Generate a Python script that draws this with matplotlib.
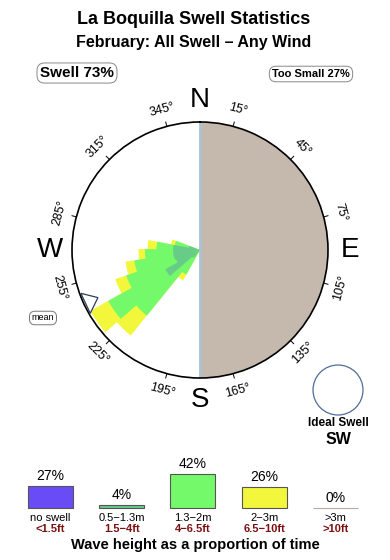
import matplotlib
matplotlib.use("Agg")
import matplotlib.pyplot as plt
import numpy as np
from matplotlib.patches import Ellipse

plt.rcParams["font.family"] = ["Liberation Sans", "DejaVu Sans"]

W, H = 390, 560

# rose data: direction bins (deg, compass) and cumulative radius per band (% of circle radius)
directions = [215, 225, 235, 245, 255, 265, 275, 285]
band_small = [0, 8, 31, 20, 21, 21, 21, 9]        # 0.5-1.3m
band_mid = [22, 66, 82, 61, 52, 43, 34, 20]       # 1.3-2m (cumulative)
band_big = [27, 86, 98, 70, 59, 48, 41, 23]       # 2-3m (cumulative)
mean_dir = 245

tick_angles = [15, 45, 75, 105, 135, 165, 195, 225, 255, 285, 315, 345]
cardinals = ["N", "E", "S", "W"]

# bottom legend
bar_pct = [27, 4, 42, 26, 0]
bar_metric = ["no swell", "0.5\u22121.3m", "1.3\u22122m", "2\u22123m", ">3m"]
bar_feet = ["<1.5ft", "1.5\u22124ft", "4\u22126.5ft", "6.5\u221210ft", ">10ft"]
bar_colors = ["#6a4cf6", "#66cc88", "#74f96a", "#f2f73c", "#c8b8b0"]

swell_pct = 73
too_small_pct = 27

GRAY = "#c4b9ac"
COAST = "#a9c2d6"


def fx(x):
    return x / W


def fy(y):
    return 1 - y / H


fig = plt.figure(figsize=(W / 100, H / 100), dpi=100)
fig.patch.set_facecolor("white")

fig.text(fx(194), fy(20), "La Boquilla Swell Statistics", ha="center", va="center",
         fontsize=13, fontweight="bold")
fig.text(fx(194), fy(43), "February: All Swell \u2013 Any Wind", ha="center", va="center",
         fontsize=11.5, fontweight="bold")

fig.text(fx(77), fy(73), f"Swell {swell_pct}%", ha="center", va="center", fontsize=11,
         fontweight="bold",
         bbox=dict(boxstyle="round,pad=0.2,rounding_size=0.5", fc="white", ec="#888888", lw=0.7))
fig.text(fx(311), fy(74), f"Too Small {too_small_pct}%", ha="center", va="center", fontsize=8,
         fontweight="bold",
         bbox=dict(boxstyle="round,pad=0.25,rounding_size=0.6", fc="white", ec="#888888", lw=0.7))
fig.text(fx(43), fy(318), "mean", ha="center", va="center", fontsize=6.5,
         bbox=dict(boxstyle="round,pad=0.25,rounding_size=0.6", fc="white", ec="#777777", lw=0.7))

# polar rose
cx, cy, R = 200, 250, 128
ax = fig.add_axes([fx(cx - R), fy(cy + R), 2 * R / W, 2 * R / H], projection="polar")
ax.set_theta_zero_location("N")
ax.set_theta_direction(-1)
rmax = 100
ax.set_ylim(0, rmax)
ax.set_xticks([])
ax.set_yticks([])
ax.grid(False)
ax.spines["polar"].set_linewidth(1.2)
ax.spines["polar"].set_color("black")

th_half = np.linspace(0, np.pi, 200)
ax.fill_between(th_half, 0, rmax, color=GRAY, lw=0, zorder=1)
ax.plot([0, 0], [0, rmax], color=COAST, lw=2, zorder=2)
ax.plot([np.pi, np.pi], [0, rmax], color=COAST, lw=2, zorder=2)

theta = np.deg2rad(directions)
wid = np.deg2rad(12)
ax.bar(theta, band_big, width=wid, color="#f2f73c", lw=0, zorder=3)
ax.bar(theta, band_mid, width=wid, color="#74f96a", lw=0, zorder=4)
ax.bar(theta, band_small, width=wid, color="#66cc88", lw=0, zorder=5)

# mean direction marker
m = np.deg2rad(mean_dir)
d = np.deg2rad(5)
ax.fill([m - d, m, m + d, m - d], [rmax * 0.99, rmax * 0.88, rmax * 0.99, rmax * 0.99],
        facecolor="white", edgecolor="#2c3e5c", lw=0.9, zorder=6)

for a in tick_angles:
    t = np.deg2rad(a)
    ax.plot([t, t], [rmax, rmax * 1.035], color="black", lw=0.7, clip_on=False)
    rot = ((-a + 90) % 180) - 90
    ax.text(t, rmax * 1.135, f"{a}\u00b0", ha="center", va="center", rotation=rot,
            rotation_mode="anchor", fontsize=9, clip_on=False)

for i, lab in enumerate(cardinals):
    ax.text(np.deg2rad(90 * i), rmax * 1.17, lab, ha="center", va="center", fontsize=20,
            clip_on=False)

# ideal swell
fig.patches.append(Ellipse((fx(338), fy(390)), 50 / W, 50 / H, transform=fig.transFigure,
                           fc="white", ec="#4f6d99", lw=0.9))
fig.text(fx(338), fy(423), "Ideal Swell", ha="center", va="center", fontsize=8.5,
         fontweight="bold")
fig.text(fx(338), fy(440), "SW", ha="center", va="center", fontsize=11.5, fontweight="bold")

# bottom bars
base_y = 508
px_per_pct = 0.81
bx = fig.add_axes([0, fy(base_y), 1, 60 / H])
bx.axis("off")
spacing = 71.2
first = 50.5
xs = np.arange(len(bar_pct))
bx.set_xlim(-first / spacing, (W - first) / spacing)
bx.set_ylim(0, 60 / px_per_pct)
bx.bar(xs, bar_pct, width=45 / spacing, color=bar_colors,
       edgecolor=["#555555", "#555555", "#555555", "#555555", "#b8a8a0"], lw=0.8,
       align="center", clip_on=False)
for i, v in enumerate(bar_pct):
    bx.annotate(f"{v}%", xy=(i, v), xytext=(0, 10), textcoords="offset pixels",
                ha="center", va="center", fontsize=10)
    bx.annotate(bar_metric[i], xy=(i, 0), xytext=(0, -10), textcoords="offset pixels",
                ha="center", va="center", fontsize=8, annotation_clip=False)
    bx.annotate(bar_feet[i], xy=(i, 0), xytext=(0, -21), textcoords="offset pixels",
                ha="center", va="center", fontsize=8, fontweight="bold", color="#7a1010",
                annotation_clip=False)

fig.text(fx(195), fy(545), "Wave height as a proportion of time", ha="center", va="center",
         fontsize=10.5, fontweight="bold")

fig.savefig("out.png", dpi=100)
